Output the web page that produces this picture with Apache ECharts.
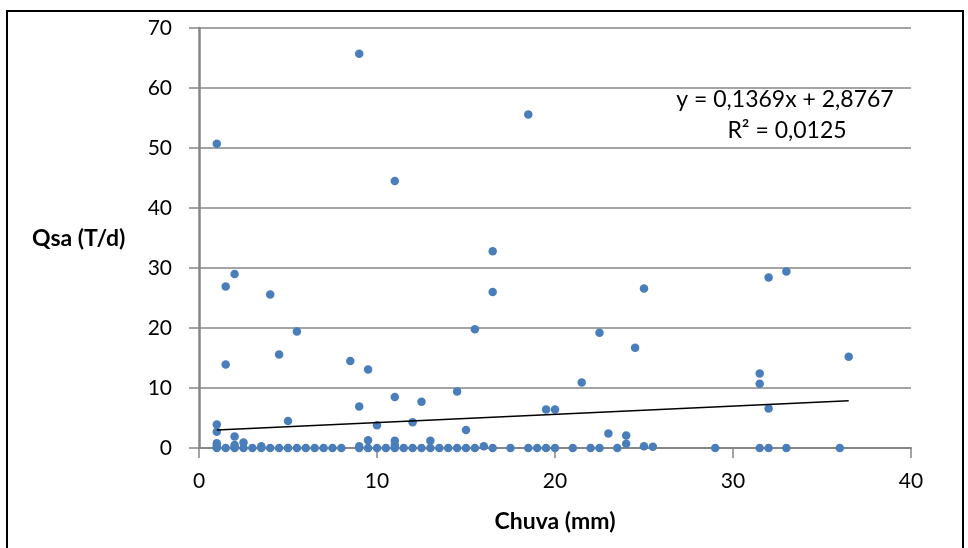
<!DOCTYPE html>
<html>
<head>
<meta charset="utf-8">
<script src="https://cdn.jsdelivr.net/npm/echarts@6/dist/echarts.min.js"></script>
<style>
  html, body { margin: 0; padding: 0; background: #fff; }
  #chart { width: 968px; height: 548px; }
</style>
</head>
<body>
<div id="chart"></div>
<script>
// Rainfall (mm) vs. sediment discharge Qsa (T/d)
const chuva = [
  1, 9, 11, 18.5,
  2, 1.5, 4, 5.5, 4.5, 1.5, 8.5, 9.5,
  16.5, 16.5, 15.5, 22.5,
  25, 32, 33, 24.5, 36.5,
  1, 1, 2, 1, 2.5, 2, 5, 9, 10, 9.5,
  11, 12.5, 14.5, 12, 15, 19.5, 20, 21.5, 11, 11, 13, 16,
  31.5, 31.5, 23, 24, 24, 25, 32,
  1, 2, 3.5, 9, 25.5,
  1, 1.5, 2, 2.5, 3, 3.5, 4, 4.5, 5, 5.5, 6, 6.5, 7, 7.5, 8,
  9, 9.5, 10, 10.5, 11, 11.5, 12, 12.5, 13, 13.5, 14, 14.5, 15, 15.5,
  16.5, 17.5, 18.5, 19, 19.5, 20, 21, 22, 22.5, 23.5, 29, 31.5, 32, 33, 36
];
const qsa = [
  50.7, 65.7, 44.5, 55.6,
  29.0, 26.9, 25.6, 19.4, 15.6, 13.9, 14.5, 13.1,
  32.8, 26.0, 19.8, 19.2,
  26.6, 28.4, 29.4, 16.7, 15.2,
  3.9, 2.7, 1.9, 0.8, 0.9, 0.5, 4.5, 6.9, 3.8, 1.3,
  8.5, 7.7, 9.4, 4.3, 3.0, 6.4, 6.4, 10.9, 1.2, 0.5, 1.2, 0.3,
  12.4, 10.7, 2.4, 2.1, 0.7, 0.3, 6.6,
  0.3, 0.2, 0.3, 0.3, 0.2,
  0, 0, 0, 0, 0, 0, 0, 0, 0, 0, 0, 0, 0, 0, 0,
  0, 0, 0, 0, 0, 0, 0, 0, 0, 0, 0, 0, 0, 0,
  0, 0, 0, 0, 0, 0, 0, 0, 0, 0, 0, 0, 0, 0, 0
];

// Linear trendline coefficients and its x extent
const slope = 0.1369;
const intercept = 2.8767;
const rSquared = 0.0125;
const trendRange = [1, 36.5];

const xTicks = [0, 10, 20, 30, 40];
const yTicks = [0, 10, 20, 30, 40, 50, 60, 70];

const fmt = (v, d) => v.toFixed(d).replace('.', ',');

const points = chuva.map((x, i) => [x, qsa[i]]);
const trend = trendRange.map(x => [x, slope * x + intercept]);

const FONT = 'Lato';
const gridColor = '#868686';

const chart = echarts.init(document.getElementById('chart'), null, { renderer: 'canvas' });
chart.setOption({
  animation: false,
  backgroundColor: '#ffffff',
  grid: { left: 199, right: 57, top: 28, bottom: 100, containLabel: false },
  xAxis: {
    type: 'value',
    min: xTicks[0],
    max: xTicks[xTicks.length - 1],
    interval: 10,
    name: 'Chuva (mm)',
    nameLocation: 'middle',
    nameGap: 62,
    nameTextStyle: { fontFamily: FONT, fontSize: 23, fontWeight: 'bold', color: '#000' },
    axisLine: { show: true, onZero: false, lineStyle: { color: gridColor, width: 2 } },
    axisTick: { show: true, inside: false, length: 10, lineStyle: { color: gridColor, width: 1.5 } },
    axisLabel: { margin: 23, fontFamily: FONT, fontSize: 21, color: '#000' },
    splitLine: { show: false }
  },
  yAxis: {
    type: 'value',
    min: yTicks[0],
    max: yTicks[yTicks.length - 1],
    interval: 10,
    axisLine: { show: true, lineStyle: { color: gridColor, width: 2.5 } },
    axisTick: { show: true, inside: false, length: 10, lineStyle: { color: gridColor, width: 1.5 } },
    axisLabel: { margin: 27, fontFamily: FONT, fontSize: 21, color: '#000' },
    splitLine: { show: true, lineStyle: { color: gridColor, width: 1.5 } }
  },
  graphic: [
    {
      type: 'rect',
      shape: { x: 7, y: 11, width: 956, height: 546 },
      style: { fill: 'none', stroke: '#000', lineWidth: 2 },
      silent: true, z: 100
    },
    {
      type: 'text',
      left: 32, top: 227,
      style: { text: 'Qsa (T/d)', fontFamily: FONT, fontSize: 23, fontWeight: 'bold', fill: '#000' },
      z: 100
    },
    {
      type: 'text',
      x: 785, y: 100,
      style: {
        text: 'y = ' + fmt(slope, 4) + 'x + ' + fmt(intercept, 4),
        fontFamily: FONT, fontSize: 23, fill: '#000',
        align: 'center', verticalAlign: 'middle'
      },
      z: 100
    },
    {
      type: 'text',
      x: 787, y: 131,
      style: {
        text: 'R² = ' + fmt(rSquared, 4),
        fontFamily: FONT, fontSize: 23, fill: '#000',
        align: 'center', verticalAlign: 'middle'
      },
      z: 100
    }
  ],
  series: [
    {
      type: 'scatter',
      data: points,
      symbol: 'circle',
      symbolSize: 8.5,
      itemStyle: { color: '#4A7EBB', opacity: 1 },
      z: 3
    },
    {
      type: 'line',
      data: trend,
      symbol: 'none',
      lineStyle: { color: '#000', width: 1.5 },
      z: 4
    }
  ]
});
</script>
</body>
</html>
